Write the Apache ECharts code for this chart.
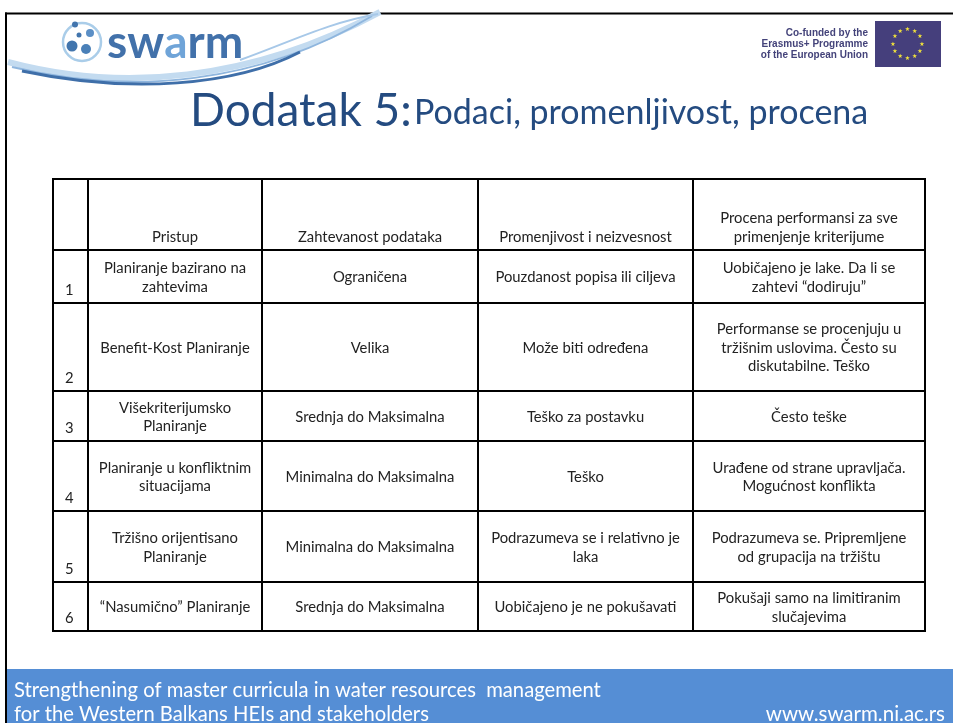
<!DOCTYPE html>
<html>
<head>
<meta charset="utf-8">
<script src="https://cdn.jsdelivr.net/npm/echarts@6/dist/echarts.min.js"></script>
<style>
  html, body { margin: 0; padding: 0; background: #fff; }
  #chart { width: 953px; height: 723px; }
</style>
</head>
<body>
<div id="chart"></div>
<script>
// ---- Data ----
const titleMain = 'Dodatak 5:';
const titleSub = 'Podaci, promenljivost, procena';
const headers = ['', 'Pristup', 'Zahtevanost podataka', 'Promenjivost i neizvesnost', 'Procena performansi za sve\nprimenjenje kriterijume'];
const rowNumbers = ['1', '2', '3', '4', '5', '6'];
const pristup = [
  'Planiranje bazirano na\nzahtevima',
  'Benefit-Kost Planiranje',
  'Višekriterijumsko\nPlaniranje',
  'Planiranje u konfliktnim\nsituacijama',
  'Tržišno orijentisano\nPlaniranje',
  '“Nasumično” Planiranje'
];
const zahtevanost = [
  'Ograničena',
  'Velika',
  'Srednja do Maksimalna',
  'Minimalna do Maksimalna',
  'Minimalna do Maksimalna',
  'Srednja do Maksimalna'
];
const promenljivost = [
  'Pouzdanost popisa ili ciljeva',
  'Može biti određena',
  'Teško za postavku',
  'Teško',
  'Podrazumeva se i relativno je\nlaka',
  'Uobičajeno je ne pokušavati'
];
const procena = [
  'Uobičajeno je lake. Da li se\nzahtevi “dodiruju”',
  'Performanse se procenjuju u\ntržišnim uslovima. Često su\ndiskutabilne. Teško',
  'Često teške',
  'Urađene od strane upravljača.\nMogućnost konflikta',
  'Podrazumeva se. Pripremljene\nod grupacija na tržištu',
  'Pokušaji samo na limitiranim\nslučajevima'
];
const footerLines = ['Strengthening of master curricula in water resources  management', 'for the Western Balkans HEIs and stakeholders'];
const footerUrl = 'www.swarm.ni.ac.rs';
const euLines = ['Co-funded by the', 'Erasmus+ Programme', 'of the European Union'];

// ---- Layout (table geometry in axis units) ----
const colEdges = [0, 35, 209, 425, 640, 872];
const rowEdges = [0, 71, 124, 212, 262, 332, 403, 452];

const columns = [rowNumbers, pristup, zahtevanost, promenljivost, procena];
const cells = [];
for (let c = 0; c < columns.length; c++) {
  cells.push([c, 0, headers[c]]);
  for (let r = 0; r < rowNumbers.length; r++) {
    cells.push([c, r + 1, columns[c][r]]);
  }
}

const FONT = 'Lato, "Open Sans", sans-serif';
const chart = echarts.init(document.getElementById('chart'), null, { renderer: 'canvas' });

// EU stars (decorative)
const stars = [];
for (let i = 0; i < 12; i++) {
  const a = i * Math.PI / 6;
  stars.push({
    type: 'text', z: 10,
    style: {
      text: '★', x: 907.5 + 14.5 * Math.sin(a), y: 44 - 14.5 * Math.cos(a),
      fill: '#f2e33a', font: '6px "DejaVu Sans"', align: 'center', verticalAlign: 'middle'
    }
  });
}

const option = {
  backgroundColor: '#ffffff',
  animation: false,
  grid: { left: 53, top: 179, width: 872, height: 452 },
  xAxis: { type: 'value', min: 0, max: 872, show: false },
  yAxis: { type: 'value', min: 0, max: 452, inverse: true, show: false },
  graphic: [
    // slide frame
    { type: 'line', shape: { x1: 5, y1: 13.5, x2: 953, y2: 13.5 }, style: { stroke: '#000', lineWidth: 2 } },
    // footer
    { type: 'rect', shape: { x: 6, y: 669, width: 947, height: 54 }, style: { fill: '#558ed5' } },
    { type: 'line', shape: { x1: 6, y1: 12.5, x2: 6, y2: 723 }, style: { stroke: '#000', lineWidth: 2 }, z: 5 },
    { type: 'text', style: { text: footerLines[0], x: 14, y: 690, fill: '#fff', font: '20.2px ' + FONT, verticalAlign: 'middle' } },
    { type: 'text', style: { text: footerLines[1], x: 14, y: 714, fill: '#fff', font: '20.2px ' + FONT, verticalAlign: 'middle' } },
    { type: 'text', style: { text: footerUrl, x: 945, y: 714, fill: '#fff', font: '20.5px ' + FONT, align: 'right', verticalAlign: 'middle' } },
    // swooshes
    { type: 'bezierCurve', shape: { x1: 8, y1: 62, cpx1: 120, cpy1: 92, cpx2: 250, cpy2: 82, x2: 380, y2: 12 }, style: { stroke: '#c3dbf0', lineWidth: 6, fill: 'none' } },
    { type: 'bezierCurve', shape: { x1: 12, y1: 67, cpx1: 130, cpy1: 96, cpx2: 260, cpy2: 84, x2: 372, y2: 16 }, style: { stroke: '#8fb6de', lineWidth: 2, fill: 'none' } },
    { type: 'bezierCurve', shape: { x1: 22, y1: 71, cpx1: 130, cpy1: 94, cpx2: 235, cpy2: 86, x2: 300, y2: 52 }, style: { stroke: '#3f6fa9', lineWidth: 3, fill: 'none' } },
    { type: 'bezierCurve', shape: { x1: 240, y1: 60, cpx1: 290, cpy1: 42, cpx2: 330, cpy2: 22, x2: 378, y2: 14 }, style: { stroke: '#a7c8e8', lineWidth: 2, fill: 'none' } },
    // logo icon
    { type: 'circle', shape: { cx: 82, cy: 42, r: 19 }, style: { fill: '#fff', stroke: '#aacde9', lineWidth: 2.5 } },
    { type: 'circle', shape: { cx: 75, cy: 24.5, r: 3 }, style: { fill: '#4275ad' } },
    { type: 'circle', shape: { cx: 72, cy: 46, r: 5.5 }, style: { fill: '#4275ad' } },
    { type: 'circle', shape: { cx: 86, cy: 49, r: 5 }, style: { fill: '#4a80b8' } },
    { type: 'circle', shape: { cx: 90, cy: 33, r: 4 }, style: { fill: '#5b8fc6' } },
    { type: 'circle', shape: { cx: 79, cy: 35, r: 2.5 }, style: { fill: '#4275ad' } },
    {
      type: 'text', style: {
        text: '{d|sw}{l|a}{d|rm}', x: 107, y: 43, verticalAlign: 'middle',
        rich: {
          d: { fill: '#4271aa', font: 'bold 46px ' + FONT },
          l: { fill: '#6fa4d8', font: 'bold 46px ' + FONT }
        }
      }
    },
    // EU logo
    { type: 'rect', shape: { x: 875, y: 21, width: 66, height: 46 }, style: { fill: '#453f7c' } },
    ...stars,
    { type: 'text', style: { text: euLines[0], x: 868, y: 33, fill: '#44437a', font: 'bold 10px "Liberation Sans", Arial, sans-serif', align: 'right', verticalAlign: 'middle' } },
    { type: 'text', style: { text: euLines[1], x: 868, y: 44, fill: '#44437a', font: 'bold 10px "Liberation Sans", Arial, sans-serif', align: 'right', verticalAlign: 'middle' } },
    { type: 'text', style: { text: euLines[2], x: 868, y: 55, fill: '#44437a', font: 'bold 10px "Liberation Sans", Arial, sans-serif', align: 'right', verticalAlign: 'middle' } },
    // title
    { type: 'text', style: { text: titleMain, x: 190, y: 111, fill: '#244b80', font: '46px ' + FONT, verticalAlign: 'middle' } },
    { type: 'text', style: { text: titleSub, x: 414, y: 113, fill: '#244b80', font: '34px ' + FONT, verticalAlign: 'middle' } }
  ],
  series: [{
    type: 'custom',
    data: cells,
    encode: { x: 0, y: 1 },
    renderItem: function (params, api) {
      const c = api.value(0), r = api.value(1);
      const text = cells[params.dataIndex][2];
      const p0 = api.coord([colEdges[c], rowEdges[r]]);
      const p1 = api.coord([colEdges[c + 1], rowEdges[r + 1]]);
      const x0 = Math.round(p0[0]), y0 = Math.round(p0[1]);
      const x1 = Math.round(p1[0]), y1 = Math.round(p1[1]);
      let tx, ty, align, vAlign;
      if (c === 0) {
        tx = x0 + 12; ty = y1 - 4; align = 'left'; vAlign = 'bottom';
      } else if (r === 0) {
        tx = (x0 + x1) / 2; ty = y1 - 4; align = 'center'; vAlign = 'bottom';
      } else {
        tx = (x0 + x1) / 2; ty = (y0 + y1) / 2 + 1; align = 'center'; vAlign = 'middle';
      }
      return {
        type: 'group',
        children: [
          { type: 'rect', shape: { x: x0, y: y0, width: x1 - x0, height: y1 - y0 },
            style: { fill: 'rgba(0,0,0,0)', stroke: '#000', lineWidth: 2 } },
          { type: 'text', style: {
              text: text, x: tx, y: ty, align: align, verticalAlign: vAlign,
              fill: '#222', font: '14.8px ' + FONT, lineHeight: 18.5 } }
        ]
      };
    }
  }]
};
chart.setOption(option);
</script>
</body>
</html>
